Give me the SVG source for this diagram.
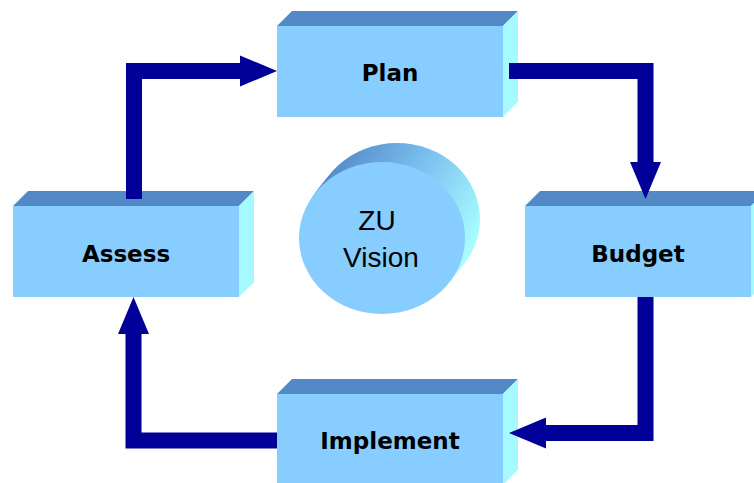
<svg xmlns="http://www.w3.org/2000/svg" width="754" height="483" viewBox="0 0 754 483">
  <defs>
    <style>
      .front { fill: #87CDFF; }
      .top { fill: #5389C7; }
      .side { fill: #A5FAFF; }
      .lbl { font-family: "DejaVu Sans", Verdana, sans-serif; font-weight: bold; font-size: 23px; fill: #000; text-anchor: middle; }
      .vis { font-family: "Liberation Sans", Arial, sans-serif; font-size: 28px; fill: #000; text-anchor: middle; }
      .conn { fill: none; stroke: #000099; stroke-width: 16; stroke-linejoin: miter; stroke-linecap: butt; }
    </style>
    <marker id="head" markerUnits="userSpaceOnUse" markerWidth="40" markerHeight="34" refX="0" refY="0" viewBox="0 -17 40 34" orient="auto" overflow="visible">
      <path d="M0,-15.5 L37,0 L0,15.5 z" fill="#000099"/>
    </marker>
    <linearGradient id="cyl" gradientUnits="userSpaceOnUse" x1="330" y1="150" x2="478" y2="235">
      <stop offset="0" stop-color="#4F86C6"/>
      <stop offset="0.55" stop-color="#7FC4F2"/>
      <stop offset="1" stop-color="#A8FCFF"/>
    </linearGradient>
  </defs>

  <g id="vision">
    <g fill="url(#cyl)">
      <ellipse cx="397" cy="219" rx="83" ry="76"/>
      <ellipse cx="395" cy="221.5" rx="83" ry="76"/>
      <ellipse cx="393" cy="224" rx="83" ry="76"/>
      <ellipse cx="391" cy="226.5" rx="83" ry="76"/>
      <ellipse cx="389" cy="229" rx="83" ry="76"/>
      <ellipse cx="387" cy="231.5" rx="83" ry="76"/>
      <ellipse cx="385" cy="234" rx="83" ry="76"/>
    </g>
    <ellipse class="front" cx="382" cy="238" rx="83" ry="76"/>
    <text class="vis" x="377" y="230">ZU</text>
    <text class="vis" x="381" y="267">Vision</text>
  </g>

  <g id="plan">
    <polygon class="top" points="277,26 292,11 518,11 503,26"/>
    <polygon class="side" points="503,26 518,11 518,102 503,117"/>
    <rect class="front" x="277" y="26" width="226" height="91"/>
    <text class="lbl" x="390" y="81">Plan</text>
  </g>

  <g id="assess">
    <polygon class="top" points="13,206 28,191 254,191 239,206"/>
    <polygon class="side" points="239,206 254,191 254,282 239,297"/>
    <rect class="front" x="13" y="206" width="226" height="91"/>
    <text class="lbl" x="126" y="262">Assess</text>
  </g>

  <g id="budget">
    <polygon class="top" points="525,206 540,191 766,191 751,206"/>
    <polygon class="side" points="751,206 766,191 766,282 751,297"/>
    <rect class="front" x="525" y="206" width="226" height="91"/>
    <text class="lbl" x="638" y="262">Budget</text>
  </g>

  <g id="implement">
    <polygon class="top" points="277,394 292,379 518,379 503,394"/>
    <polygon class="side" points="503,394 518,379 518,470 503,485"/>
    <rect class="front" x="277" y="394" width="226" height="91"/>
    <text class="lbl" x="390" y="449">Implement</text>
  </g>

  <g id="connectors">
    <polyline class="conn" points="134,199 134,71 240,71" marker-end="url(#head)"/>
    <polyline class="conn" points="509,71 645.5,71 645.5,162" marker-end="url(#head)"/>
    <polyline class="conn" points="645.5,297 645.5,433 546,433" marker-end="url(#head)"/>
    <polyline class="conn" points="277,440.5 133.5,440.5 133.5,334" marker-end="url(#head)"/>
  </g>
</svg>
